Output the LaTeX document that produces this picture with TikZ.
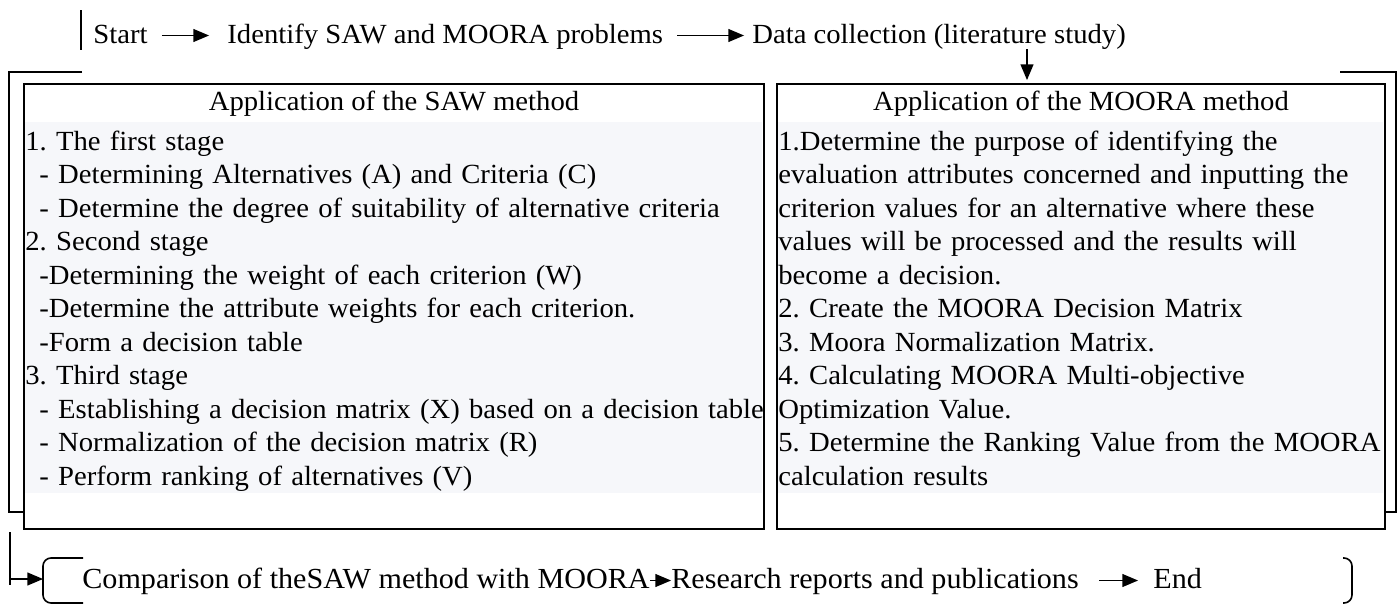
\documentclass[tikz,border=0pt]{standalone}
\usepackage{fontspec}
\setmainfont{Liberation Serif}[FakeStretch=1.035]
\usepackage{tikz}
\usetikzlibrary{arrows,positioning,calc}
\definecolor{shade}{RGB}{246,247,250}
\frenchspacing

\begin{document}
\begin{tikzpicture}[x=0.5pt, y=-0.5pt,
		txt/.style={inner sep=0pt, anchor=base west, font=\fontsize{13.85pt}{16.75pt}\selectfont, text height=10.5pt, text depth=3pt},
		big/.style={txt, font=\fontsize{14.55pt}{17pt}\selectfont},
		box/.style={draw, line width=1pt, anchor=north west, minimum height=222.5pt, inner sep=0pt},
		body/.style={fill=shade, anchor=north west, inner xsep=0.5pt, inner ysep=0pt, align=left, font=\fontsize{13.85pt}{16.75pt}\selectfont},
		frame/.style={line width=1pt}]
		\useasboundingbox (0,0) rectangle (1397,605);

		\node[txt] (S) at (93,43) {Start};
		\node[txt] (P) at (227,43) {Identify SAW and MOORA problems};
		\node[txt] (D) at (752,43) {Data collection (literature study)};
		\draw[thick] (81,10) -- (81,50);

		\node[body, text width=368pt] (L1) at (24,122) {\rule{0pt}{14pt}1. The first stage\\
			\hspace*{7pt}- Determining Alternatives (A) and Criteria (C)\\
			\hspace*{7pt}- Determine the degree of suitability of alternative criteria\\
			2. Second stage\\
			\hspace*{7pt}-Determining the weight of each criterion (W)\\
			\hspace*{7pt}-Determine the attribute weights for each criterion.\\
			\hspace*{7pt}-Form a decision table\\
			3. Third stage\\
			\mbox{\hspace*{7pt}- Establishing a decision matrix (X) based on a decision table}\\
			\hspace*{7pt}- Normalization of the decision matrix (R)\\
			\hspace*{7pt}- Perform ranking of alternatives (V)\rule[-4pt]{0pt}{4pt}};
		\node[body, text width=302pt] (L2) at (777,122) {\rule{0pt}{14pt}1.Determine the purpose of identifying the\\
			\mbox{evaluation attributes concerned and inputting the}\\
			\mbox{criterion values for an alternative where these}\\
			\mbox{values will be processed and the results will}\\
			become a decision.\\
			2. Create the MOORA Decision Matrix\\
			3. Moora Normalization Matrix.\\
			4. Calculating MOORA Multi-objective\\
			Optimization Value.\\
			\mbox{5. Determine the Ranking Value from the MOORA}\\
			calculation results\rule[-4pt]{0pt}{4pt}};

		\node[box, minimum width=370pt] (B1) at (23,83) {};
		\node[box, minimum width=304pt] (B2) at (776,83) {};
		\node[txt, anchor=base] (T1) at ([yshift=-13.5pt]B1.north) {Application of the SAW method};
		\node[txt, anchor=base] (T2) at ([yshift=-13.5pt]B2.north) {Application of the MOORA method};

		\draw[frame] (82,72) -- (9,72) -- (9,512) -- (23,512);
		\draw[frame] (1340,72) -- (1396,72) -- (1396,512) -- (1384,512);

		\coordinate (X) at (1027,0);
		\path[->, thick, >=triangle 45, shorten <=7pt, shorten >=9pt] (S) edge (P);
		\path[->, thick, >=triangle 45, shorten <=7pt, shorten >=4pt] (P) edge (D);
		\path[->, thick, >=triangle 45, shorten >=1.5pt] (D.south -| X) edge (B2.north -| X);

		\node[big] (C) at (82,588) {Comparison of theSAW method with MOORA};
		\node[big] (R) at (671,588) {Research reports and publications};
		\node[big] (E) at (1153,588) {End};
		\draw[thick, rounded corners=4pt] (83,558) -- (43,558) -- (43,603) -- (83,603);
		\draw[thick, rounded corners=4pt] (1343,558) -- (1352,558) -- (1352,603) -- (1343,603);

		\coordinate (F) at (10,532);
		\coordinate (G) at (10,579);
		\coordinate (K) at (43,579);
		\draw[thick] (F) -- (10,585);
		\path[->, thick, >=triangle 45] (G) edge (K);
		\path[->, thick, >=triangle 45] (C) edge (R);
		\path[->, thick, >=triangle 45, shorten <=10pt, shorten >=7.5pt] (R) edge (E);
		\end{tikzpicture}
\end{document}
